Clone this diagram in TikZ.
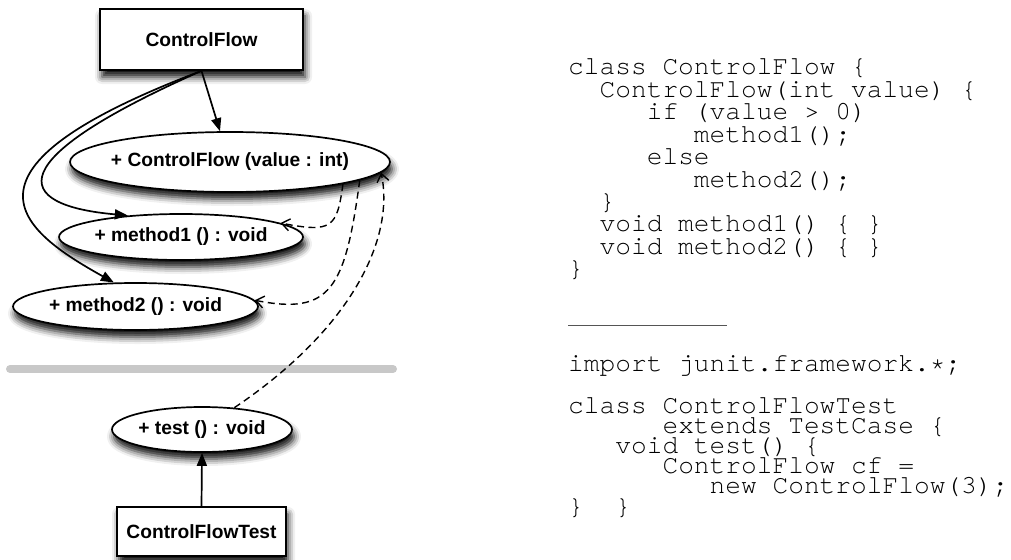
\documentclass[tikz,border=0pt]{standalone}
\usepackage{fontspec}
\setmainfont{Liberation Sans}
\newfontfamily\codefont{TeX Gyre Cursor}
\usetikzlibrary{arrows.meta,shapes.geometric,shadows.blur}
\begin{document}
\begin{tikzpicture}[x=1pt,y=-1pt,
  shad/.style={blur shadow={shadow xshift=2pt,shadow yshift=-7pt,shadow blur radius=7pt,shadow opacity=95}},
  umlbox/.style={draw,line width=1.7pt,fill=white,rectangle,inner sep=0pt,
    font=\fontsize{19.2}{22}\selectfont\bfseries,shad},
  umlell/.style={draw,ellipse,line width=1.7pt,fill=white,inner sep=0pt,
    font=\fontsize{19.2}{22}\selectfont\bfseries,shad},
  codeline/.style={anchor=base west,inner sep=0pt,font=\codefont\fontsize{26.2}{26}\selectfont},
  solidarr/.style={line width=1.7pt,-{Triangle[length=13pt,width=10pt]}},
  dasharr/.style={line width=1.4pt,dash pattern=on 7pt off 4.5pt,-{Straight Barb[length=8pt,width=12pt]}}
]
\useasboundingbox (0,0) rectangle (1011,559);
\def\w{15.72}
% separator
\draw[line width=8pt,color={rgb,255:red,200;green,200;blue,200},line cap=round] (10,369) -- (393,369);
% nodes
\node[umlbox,minimum width=203pt,minimum height=61pt] (cfbox) at (201.5,39.5) {ControlFlow};
\node[umlell,minimum width=320pt,minimum height=60pt] (cf) at (230,162) {\makebox[0pt]{+ ControlFlow (value : int)}};
\node[umlell,minimum width=244pt,minimum height=46pt] (m1) at (181,237) {\makebox[0pt]{+ method1 () : void}};
\node[umlell,minimum width=245pt,minimum height=47pt] (m2) at (135.5,306.5) {\makebox[0pt]{+ method2 () : void}};
\node[umlell,minimum width=180pt,minimum height=45pt] (test) at (202,429.5) {\makebox[0pt]{+ test () : void}};
\node[umlbox,minimum width=169pt,minimum height=49pt] (cftbox) at (201.5,531.5) {ControlFlowTest};
% solid arrows
\draw[solidarr] (cfbox.south) -- (cf.108);
\draw[solidarr] (cfbox.south) .. controls (0,160) and (10,205) .. (m1.158);
\draw[solidarr] (cfbox.south) .. controls (-60,170) and (20,230) .. (m2.132);
\draw[solidarr] (cftbox.north) -- (test.south);
% dashed arrows
\draw[dasharr] (cf.-11) .. controls (337,228) and (332,233) .. (m1.8);
\draw[dasharr] (cf.-8) .. controls (345,290) and (330,315) .. (m2.3);
\draw[dasharr] (test.34) .. controls (350,330) and (395,240) .. (cf.-4);
% code block 1
\node[codeline] (c1) at (568,75) {class ControlFlow \{};
\node[codeline] (c2) at (568+2*\w,97.4) {ControlFlow(int value) \{};
\node[codeline] (c3) at (568+5*\w,119.8) {if (value > 0)};
\node[codeline] (c4) at (568+8*\w,142.2) {method1();};
\node[codeline] (c5) at (568+5*\w,164.6) {else};
\node[codeline] (c6) at (568+8*\w,187) {method2();};
\node[codeline] (c7) at (568+2*\w,209.4) {\}};
\node[codeline] (c8) at (568+2*\w,231.8) {void method1() \{ \}};
\node[codeline] (c9) at (568+2*\w,254.2) {void method2() \{ \}};
\node[codeline] (c10) at (568,276.6) {\}};
% rule
\draw[line width=1pt,color={rgb,255:red,85;green,85;blue,85}] (568,325) -- (727,325);
% code block 2
\node[codeline] (i1) at (568,371) {import junit.framework.\raisebox{-4pt}{*};};
\node[codeline] (i2) at (568,413) {class ControlFlowTest};
\node[codeline] (i3) at (568+6*\w,433) {extends TestCase \{};
\node[codeline] (i4) at (568+3*\w,453) {void test() \{};
\node[codeline] (i5) at (568+6*\w,473) {ControlFlow cf =};
\node[codeline] (i6) at (568+9*\w,493) {new ControlFlow(3);};
\node[codeline] (i7) at (568,514) {\}\ \ \}};
\end{tikzpicture}
\end{document}
